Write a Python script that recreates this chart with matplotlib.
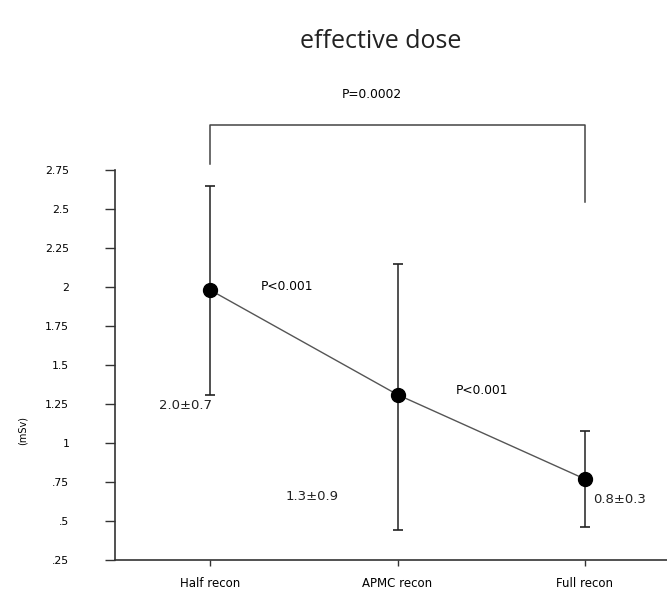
import matplotlib
matplotlib.use('Agg')
import matplotlib.pyplot as plt

# data
groups = ['Half recon', 'APMC recon', 'Full recon']
xpos = [1, 2, 3]
dose_mean = [1.98, 1.31, 0.77]
dose_upper = [2.65, 2.15, 1.08]
dose_lower = [1.31, 0.44, 0.46]
dose_labels = ['2.0\u00b10.7', '1.3\u00b10.9', '0.8\u00b10.3']
yticks = [0.25, 0.5, 0.75, 1.0, 1.25, 1.5, 1.75, 2.0, 2.25, 2.5, 2.75]
ytick_labels = ['.25', '.5', '.75', '1', '1.25', '1.5', '1.75', '2', '2.25', '2.5', '2.75']

# comparison bracket Half vs Full
bracket_top = 3.04
bracket_left_end = 2.79
bracket_right_end = 2.545

fig = plt.figure(figsize=(6.67, 5.9), dpi=100)
ax = fig.add_axes([0.1724, 0.0508, 0.8276, 0.661])

err_low = [m - l for m, l in zip(dose_mean, dose_lower)]
err_up = [u - m for m, u in zip(dose_mean, dose_upper)]

ax.errorbar(xpos, dose_mean, yerr=[err_low, err_up], fmt='none', ecolor='#222222',
            elinewidth=1.1, capsize=3.8, capthick=1.2, zorder=2)
ax.plot(xpos, dose_mean, color='#555555', lw=1.0, zorder=3)
ax.plot(xpos, dose_mean, 'o', color='black', markersize=10, zorder=4)

ax.set_xlim(0.49, 3.44)
ax.set_ylim(0.25, 2.75)
ax.set_xticks(xpos)
ax.set_xticklabels(groups, fontsize=8.5)
ax.set_yticks(yticks)
ax.set_yticklabels(ytick_labels, fontsize=7.8)
ax.tick_params(axis='y', direction='out', length=7, width=1, pad=26, color='#333333')
ax.tick_params(axis='x', direction='out', length=4, width=1, pad=8, color='#333333')
for s in ['top', 'right']:
    ax.spines[s].set_visible(False)
for s in ['left', 'bottom']:
    ax.spines[s].set_color('#333333')
    ax.spines[s].set_linewidth(1.2)

# bracket
ax.plot([xpos[0], xpos[0], xpos[2], xpos[2]],
        [bracket_left_end, bracket_top, bracket_top, bracket_right_end],
        color='#444444', lw=1.1, clip_on=False)
ax.text(1.865, 3.237, 'P=0.0002', ha='center', va='center', fontsize=8.8, clip_on=False)

ax.text(1.41, 2.006, 'P<0.001', ha='center', va='center', fontsize=8.8)
ax.text(2.45, 1.335, 'P<0.001', ha='center', va='center', fontsize=8.8)

label_pos = [(0.867, 1.239), (1.545, 0.656), (3.186, 0.635)]
for (lx, ly), txt in zip(label_pos, dose_labels):
    ax.text(lx, ly, txt, ha='center', va='center', fontsize=9.5, color='#222222')

fig.text(0.57, 0.93, 'effective dose', ha='center', va='center', fontsize=18,
         family='Open Sans', color='#222222')
fig.text(0.0345, 0.271, '(mSv)', ha='center', va='center', rotation=90, fontsize=7)

fig.savefig('out.png', dpi=100)
